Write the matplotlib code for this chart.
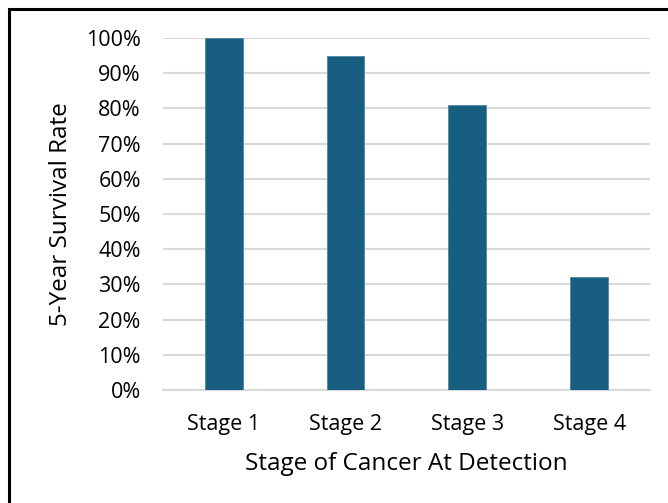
import matplotlib
matplotlib.use("Agg")
import matplotlib.pyplot as plt
from matplotlib.patches import Rectangle
from matplotlib.ticker import PercentFormatter

stages = ["Stage 1", "Stage 2", "Stage 3", "Stage 4"]
survival = [1.00, 0.95, 0.81, 0.32]

plt.rcParams['font.family'] = ['Open Sans', 'DejaVu Sans']

fig = plt.figure(figsize=(6.68, 5.03), dpi=100)
ax = fig.add_axes([0.244, 0.2247, 0.729, 0.6998])

x = range(len(stages))
ax.bar(x, survival, width=0.31, color="#175e80", edgecolor="#4f86a3", linewidth=0.6, zorder=3)

ax.set_xlim(-0.5, len(stages) - 0.5)
ax.set_ylim(0, 1.0)
ax.set_yticks([i / 10 for i in range(11)])
ax.yaxis.set_major_formatter(PercentFormatter(1.0, decimals=0))
ax.set_xticks(list(x))
ax.set_xticklabels(stages)

ax.grid(axis="y", color="#d9d9d9", linewidth=1.5, zorder=0)
for s in ["top", "right", "left"]:
    ax.spines[s].set_visible(False)
ax.spines["bottom"].set_color("#d9d9d9")
ax.spines["bottom"].set_linewidth(1.5)
ax.tick_params(axis="both", length=0, labelsize=15.5, colors="black")
ax.tick_params(axis="y", pad=16)
ax.tick_params(axis="x", pad=17.5)

ax.set_ylabel("5-Year Survival Rate", fontsize=17.5)
ax.yaxis.set_label_coords(-0.185, 0.5)
ax.set_xlabel("Stage of Cancer At Detection", fontsize=17.5, labelpad=12)

# outer frame around the chart
fig.patches.append(Rectangle((8.5 / 668, -0.05), 1.1, 1 - 8.5 / 503 + 0.05,
                             transform=fig.transFigure, fill=False,
                             edgecolor="black", linewidth=2.2))

fig.savefig("out.png", dpi=100)
